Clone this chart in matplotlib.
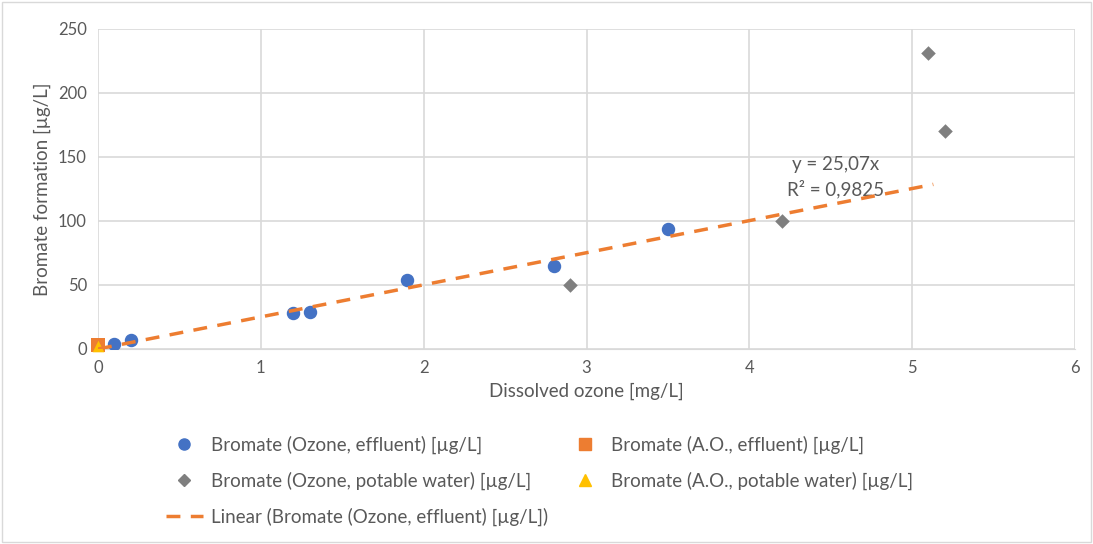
import numpy as np
import matplotlib.pyplot as plt
from matplotlib.lines import Line2D

plt.rcParams['font.family'] = ['Lato', 'DejaVu Sans']

# data
ozone_eff_x = [0.1, 0.2, 1.2, 1.3, 1.9, 2.8, 3.5]
ozone_eff_y = [4, 7, 28, 29, 54, 65, 94]
ozone_pot_x = [2.9, 4.2, 5.1, 5.2]
ozone_pot_y = [50, 100, 231, 170]
ao_eff_x = [0.0]
ao_eff_y = [3]
ao_pot_x = [0.0]
ao_pot_y = [2]
slope = 25.07
trend_end = 5.13

grey = '#595959'
fig = plt.figure(figsize=(10.93, 5.44), dpi=100)
ax = fig.add_axes([0.0897, 0.3585, 0.8938, 0.5882])

ax.scatter(ozone_eff_x, ozone_eff_y, s=75, color='#4472c4', zorder=3)
ax.scatter(ozone_pot_x, ozone_pot_y, s=55, marker='D', color='#7f7f7f', zorder=3, linewidths=0)
ax.scatter(ao_eff_x, ao_eff_y, s=95, marker='s', color='#ed7d31', zorder=3, linewidths=0,
           clip_on=False)
ax.scatter(ao_pot_x, ao_pot_y, s=70, marker='^', color='#ffc000', zorder=4, linewidths=0,
           clip_on=False)
tx = np.array([0, trend_end])
ax.plot(tx, slope * tx, ls=(0, (4, 3)), color='#ed7d31', lw=2.5, zorder=4)
ax.text(4.53, 118, 'y = 25,07x\nR² = 0,9825', color=grey, fontsize=13.5, ha='center',
        va='bottom', linespacing=1.4)

ax.set_xlim(0, 6)
ax.set_ylim(0, 250)
ax.set_xticks(range(0, 7))
ax.set_yticks(range(0, 251, 50))
ax.grid(True, color='#d9d9d9', lw=1.2)
ax.set_axisbelow(True)
for s in ['top', 'right', 'left']:
    ax.spines[s].set_visible(False)
ax.spines['bottom'].set_color('#d9d9d9')
ax.tick_params(length=0, colors=grey, labelsize=12, pad=8)
ax.set_xlabel('Dissolved ozone [mg/L]', color=grey, fontsize=13.5, labelpad=5)
ax.set_ylabel('Bromate formation [µg/L]', color=grey, fontsize=13.5, labelpad=5)

handles = [
    Line2D([], [], ls='', marker='o', ms=8, color='#4472c4'),
    Line2D([], [], ls='', marker='D', ms=6, color='#7f7f7f'),
    Line2D([], [], ls=(0, (4, 3)), lw=2.5, color='#ed7d31'),
    Line2D([], [], ls='', marker='s', ms=9, color='#ed7d31'),
    Line2D([], [], ls='', marker='^', ms=9, color='#ffc000'),
]
labels = ['Bromate (Ozone, effluent) [µg/L]',
          'Bromate (Ozone, potable water) [µg/L]',
          'Linear (Bromate (Ozone, effluent) [µg/L])',
          'Bromate (A.O., effluent) [µg/L]',
          'Bromate (A.O., potable water) [µg/L]']
leg = fig.legend(handles, labels, ncol=2, loc='upper left', bbox_to_anchor=(0.136, 0.231),
                 frameon=False, fontsize=13.5, labelcolor=grey, handlelength=2,
                 handletextpad=0.4, columnspacing=1.0, labelspacing=0.95)

fig.patches.append(plt.Rectangle((0.002, 0.004), 0.996, 0.992, transform=fig.transFigure,
                                 fill=False, edgecolor='#d9d9d9', lw=1))
fig.savefig('out.png', dpi=100)
